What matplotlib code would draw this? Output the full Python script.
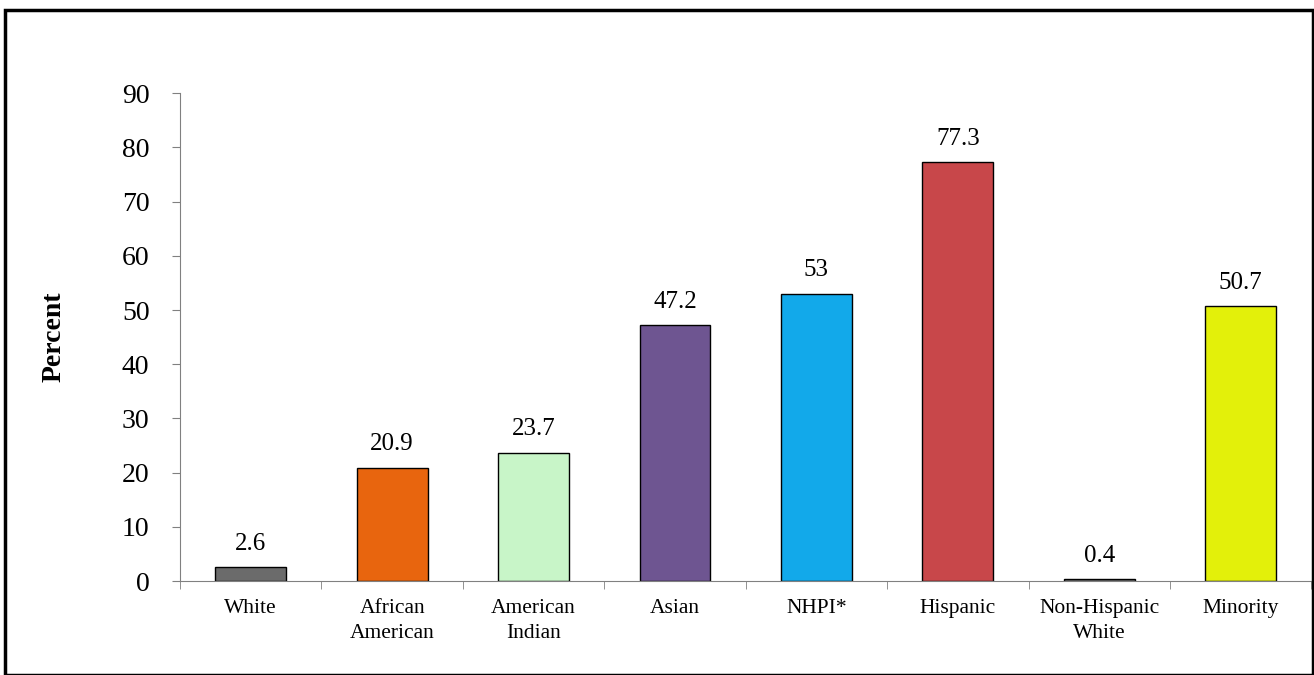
import matplotlib.pyplot as plt
from matplotlib.patches import Rectangle

categories = ["White", "African\nAmerican", "American\nIndian", "Asian", "NHPI*",
              "Hispanic", "Non-Hispanic\nWhite", "Minority"]
values = [2.6, 20.9, 23.7, 47.2, 53, 77.3, 0.4, 50.7]
labels = ["2.6", "20.9", "23.7", "47.2", "53", "77.3", "0.4", "50.7"]
colors = ["#6b6b6b", "#e8650e", "#c8f5c8", "#6e5591", "#12a9ea",
          "#c8474a", "#7a7a7a", "#e3f00a"]

plt.rcParams['font.family'] = ['Liberation Serif', 'DejaVu Serif']

fig = plt.figure(figsize=(13.14, 6.75), dpi=100)
ax = fig.add_axes([0.137, 0.139, 0.861, 0.723])

x = range(len(categories))
ax.bar(x, values, width=0.5, color=colors, edgecolor="black", linewidth=1)

for i, (v, lab) in enumerate(zip(values, labels)):
    ax.text(i, v + 2.3, lab, ha="center", va="bottom", fontsize=18)

ax.set_xlim(-0.5, len(categories) - 0.5)
ax.set_ylim(0, 90)
ax.set_yticks(range(0, 91, 10))
ax.tick_params(axis="y", labelsize=20, length=6, color="#808080", pad=16)

ax.set_xticks(list(x))
ax.set_xticklabels(categories, fontsize=15.5, linespacing=1.4)
ax.tick_params(axis="x", length=0, pad=13)
ax.set_xticks([i + 0.5 for i in range(-1, len(categories))], minor=True)
ax.tick_params(axis="x", which="minor", length=6, color="#808080")

for s in ["top", "right"]:
    ax.spines[s].set_visible(False)
ax.spines["left"].set_color("#808080")
ax.spines["bottom"].set_color("#808080")

ax.set_ylabel("Percent", fontsize=20, fontweight="bold", labelpad=40)

fig.patches.append(Rectangle((0.004, 0.0), 0.995, 0.985, transform=fig.transFigure,
                             fill=False, edgecolor="black", linewidth=2.5))

fig.savefig("out.png", dpi=100)
